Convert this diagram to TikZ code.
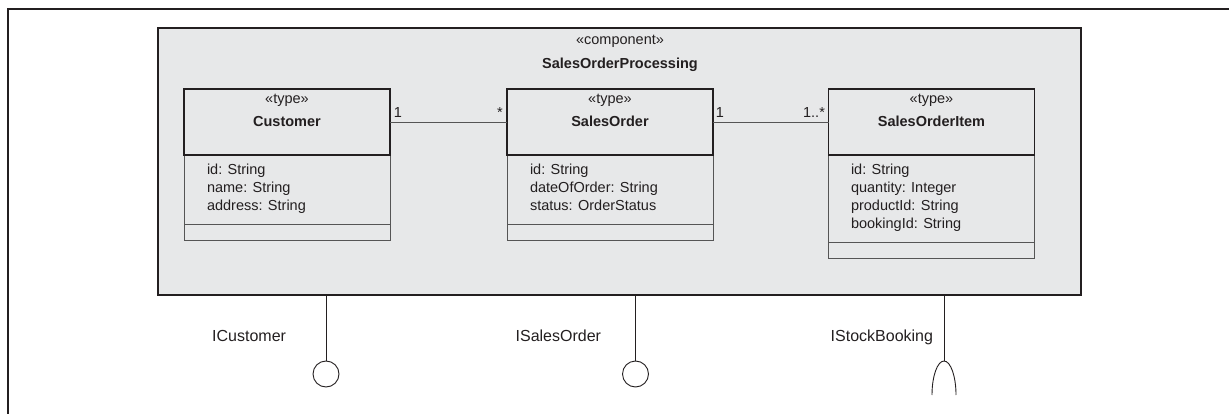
\documentclass[tikz,border=0pt]{standalone}
\usepackage{fontspec}
\setmainfont{Liberation Sans}
\usetikzlibrary{positioning}
\definecolor{umlfill}{HTML}{E7E8E9}
\definecolor{umlline}{HTML}{231F20}
\definecolor{umlthin}{HTML}{555555}

\begin{document}
\begin{tikzpicture}[x=1pt,y=-1pt,
  txt/.style={inner sep=0pt, outer sep=0pt, text=umlline, font=\fontsize{14.5}{18}\selectfont},
  bold/.style={txt, font=\fontsize{14.5}{18}\selectfont\bfseries},
  attrs/.style={txt, align=left, anchor=north west},
  iface/.style={txt, anchor=base east, font=\fontsize{16}{19}\selectfont},
  compbox/.style={draw=umlline, fill=umlfill, line width=2pt, inner sep=0pt, outer sep=0pt,
    minimum width=923pt, minimum height=267pt},
  headbox/.style={draw=umlline, fill=umlfill, line width=1.6pt, inner sep=0pt, outer sep=0pt,
    minimum width=206pt, minimum height=66pt},
  compart/.style={draw=umlthin, fill=umlfill, line width=0.9pt, inner sep=0pt, outer sep=0pt,
    minimum width=206pt},
  lolly/.style={circle, draw=umlline, line width=0.9pt, inner sep=0pt, minimum size=26pt},
  assoc/.style={draw=umlthin, line width=0.9pt},
  wire/.style={draw=umlline, line width=0.9pt}]
\useasboundingbox (0,0) rectangle (1229,414);
\draw[line width=2pt, umlline] (8,414) -- (8,9) -- (1229,9);

% component
\node[compbox] (comp) at (619.5,161.5){};
\node[txt, anchor=base] (compst) at (620,45){«component»};
\node[bold, anchor=base] (compname) at (620,68.5){SalesOrderProcessing};

% Customer
\node[compart, minimum height=69pt] (custattr) at (287,189.5){};
\node[compart, minimum height=16pt, below=0pt of custattr] (custops){};
\node[headbox, above=0pt of custattr] (cust){};
\node[txt, anchor=base] (custst) at (cust.north |- 0,104){«type»};
\node[bold, anchor=base] (custname) at (cust.north |- 0,126.5){Customer};
\node[attrs] (custlist) at (207,164){id: String\\name: String\\address: String};

% SalesOrder
\node[compart, minimum height=69pt] (orderattr) at (610,189.5){};
\node[compart, minimum height=16pt, below=0pt of orderattr] (orderops){};
\node[headbox, above=0pt of orderattr] (order){};
\node[txt, anchor=base] (orderst) at (order.north |- 0,104){«type»};
\node[bold, anchor=base] (ordername) at (order.north |- 0,126.5){SalesOrder};
\node[attrs] (orderlist) at (530,164){id: String\\dateOfOrder: String\\status: OrderStatus};

% SalesOrderItem
\node[compart, minimum height=87pt] (itemattr) at (931.5,198.5){};
\node[compart, minimum height=16pt, below=0pt of itemattr] (itemops){};
\node[headbox, above=0pt of itemattr] (item){};
\node[txt, anchor=base] (itemst) at (item.north |- 0,104){«type»};
\node[bold, anchor=base] (itemname) at (item.north |- 0,126.5){SalesOrderItem};
\node[attrs] (itemlist) at (851,164){id: String\\quantity: Integer\\productId: String\\bookingId: String};

% associations
\draw[assoc] (cust.east) -- (order.west);
\draw[assoc] (order.east) -- (item.west);
\node[txt, anchor=base] (m1) at (398,118){1};
\node[txt, anchor=base] (m2) at (500,118){*};
\node[txt, anchor=base] (m3) at (720,118){1};
\node[txt, anchor=base] (m4) at (814,118){1..*};

% interfaces
\node[lolly] (icust) at (326,374){};
\draw[wire] (icust.north) -- (icust.north |- comp.south);
\node[iface] (icustlbl) at (286,341){ICustomer};
\node[lolly] (iorder) at (635.5,374){};
\draw[wire] (iorder.north) -- (iorder.north |- comp.south);
\node[iface] (iorderlbl) at (601,341){ISalesOrder};
\coordinate (isock) at (944,361);
\draw[wire] (isock) -- (isock |- comp.south);
\draw[wire] (932,395) arc[start angle=180, end angle=360, x radius=12, y radius=34];
\node[iface] (isocklbl) at (933,341){IStockBooking};

\end{tikzpicture}
\end{document}
